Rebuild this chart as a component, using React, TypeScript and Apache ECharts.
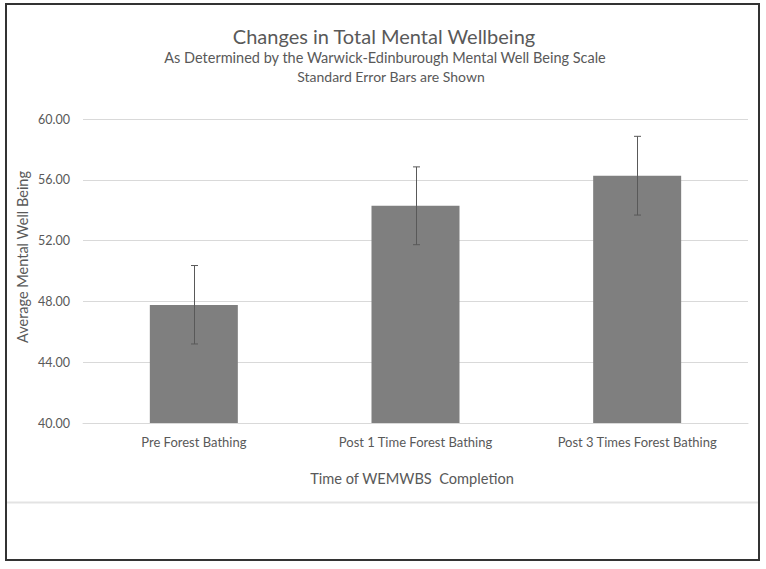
import React, { useEffect, useRef } from "react";
import * as echarts from "echarts";

const categories = ["Pre Forest Bathing", "Post 1 Time Forest Bathing", "Post 3 Times Forest Bathing"];
const means = [47.77, 54.3, 56.26];
const errLow = [45.2, 51.73, 53.68];
const errHigh = [50.36, 56.85, 58.86];
const yTicks = { min: 40, max: 60, interval: 4 };

const FONT = "Lato";
const TXT = "#595959";

export default function App() {
  const ref = useRef<HTMLDivElement>(null);
  useEffect(() => {
    if (!ref.current) return;
    const chart = echarts.init(ref.current, undefined, { renderer: "svg" });
    const errData = categories.map((_, i) => [i, errLow[i], errHigh[i]]);
    chart.setOption({
      animation: false,
      backgroundColor: "#ffffff",
      textStyle: { fontFamily: FONT },
      grid: { left: 83, width: 665, top: 119, height: 304 },
      xAxis: {
        type: "category",
        data: categories,
        axisLine: { show: true, lineStyle: { color: "#d9d9d9", width: 1 } },
        axisTick: { show: false },
        axisLabel: { color: TXT, fontSize: 13, fontFamily: FONT, margin: 12 },
      },
      yAxis: {
        type: "value",
        min: yTicks.min,
        max: yTicks.max,
        interval: yTicks.interval,
        axisLine: { show: false },
        axisTick: { show: false },
        splitLine: { lineStyle: { color: "#d9d9d9", width: 1 } },
        axisLabel: {
          color: TXT,
          fontSize: 12.5,
          fontFamily: FONT,
          margin: 13,
          formatter: (v: number) => v.toFixed(2),
        },
      },
      series: [
        {
          type: "bar",
          data: means,
          barWidth: 88,
          itemStyle: { color: "#7f7f7f" },
        },
        {
          type: "custom",
          data: errData,
          z: 10,
          renderItem: (params: any, api: any) => {
            const x = api.value(0);
            const lo = api.coord([x, api.value(1)]);
            const hi = api.coord([x, api.value(2)]);
            const cx = Math.round(lo[0]) + 0.5;
            const hw = 3.5;
            const style = { stroke: "#595959", lineWidth: 1 };
            return {
              type: "group",
              children: [
                { type: "line", shape: { x1: cx, y1: hi[1], x2: cx, y2: lo[1] }, style },
                { type: "line", shape: { x1: cx - hw, y1: hi[1], x2: cx + hw, y2: hi[1] }, style },
                { type: "line", shape: { x1: cx - hw, y1: lo[1], x2: cx + hw, y2: lo[1] }, style },
              ],
            };
          },
        },
      ],
      graphic: [
        {
          type: "rect",
          shape: { x: 6, y: 4, width: 753, height: 556 },
          style: { fill: "none", stroke: "#333333", lineWidth: 2 },
          silent: true,
        },
        {
          type: "line",
          shape: { x1: 7, y1: 502.5, x2: 758, y2: 502.5 },
          style: { stroke: "#e3e3e3", lineWidth: 2 },
          silent: true,
        },
        {
          type: "text",
          x: 384,
          y: 36,
          style: { text: "Changes in Total Mental Wellbeing", fill: TXT, font: `20px ${FONT}`, align: "center", verticalAlign: "middle" },
        },
        {
          type: "text",
          x: 385,
          y: 57.5,
          style: { text: "As Determined by the Warwick-Edinburough Mental Well Being Scale", fill: TXT, font: `14.5px ${FONT}`, align: "center", verticalAlign: "middle" },
        },
        {
          type: "text",
          x: 391,
          y: 76,
          style: { text: "Standard Error Bars are Shown", fill: TXT, font: `14px ${FONT}`, align: "center", verticalAlign: "middle" },
        },
        {
          type: "text",
          x: 412,
          y: 478,
          style: { text: "Time of WEMWBS  Completion", fill: TXT, font: `14.6px ${FONT}`, align: "center", verticalAlign: "middle" },
        },
        {
          type: "text",
          x: 22,
          y: 257,
          rotation: Math.PI / 2,
          style: { text: "Average Mental Well Being", fill: TXT, font: `14.5px ${FONT}`, align: "center", verticalAlign: "middle" },
        },
      ],
    });
    return () => chart.dispose();
  }, []);
  return <div ref={ref} style={{ position: "fixed", left: 0, top: 0, width: 766, height: 569 }} />;
}
